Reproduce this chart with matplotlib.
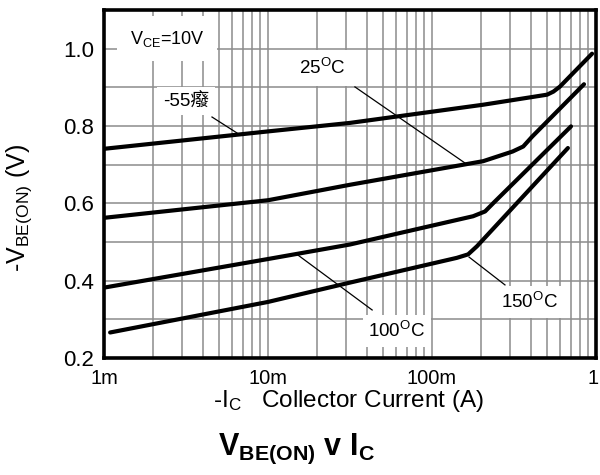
import matplotlib
matplotlib.use("Agg")
import matplotlib.pyplot as plt
from matplotlib.ticker import FixedLocator, NullFormatter, LogLocator
from matplotlib.transforms import ScaledTranslation

plt.rcParams['font.family'] = ['Liberation Sans', 'Noto Sans CJK SC', 'DejaVu Sans']
plt.rcParams['mathtext.fontset'] = 'custom'
plt.rcParams['mathtext.rm'] = 'Liberation Sans'
plt.rcParams['mathtext.it'] = 'Liberation Sans:italic'
plt.rcParams['mathtext.bf'] = 'Liberation Sans:bold'

# ---- data ----
ic_m55 = [1e-3, 0.01, 0.0316, 0.205, 0.503, 0.55, 0.603, 0.946]
vbe_m55 = [0.741, 0.786, 0.808, 0.855, 0.881, 0.889, 0.902, 0.987]

ic_25 = [1e-3, 0.01, 0.0316, 0.205, 0.31, 0.36, 0.407, 0.845]
vbe_25 = [0.5625, 0.608, 0.648, 0.709, 0.734, 0.747, 0.772, 0.908]

ic_100 = [1e-3, 0.01, 0.0316, 0.097, 0.178, 0.2106, 0.237, 0.704]
vbe_100 = [0.382, 0.456, 0.4935, 0.541, 0.5666, 0.579, 0.601, 0.799]

ic_150 = [1.09e-3, 0.01, 0.0316, 0.1417, 0.166, 0.188, 0.674]
vbe_150 = [0.266, 0.345, 0.395, 0.459, 0.468, 0.489, 0.743]

x_ticks = [1e-3, 1e-2, 1e-1, 1]
x_tick_labels = ['1m', '10m', '100m', '1']
y_ticks = [0.2, 0.4, 0.6, 0.8, 1.0]
y_tick_labels = ['0.2', '0.4', '0.6', '0.8', '1.0']
y_grid = [0.3, 0.5, 0.7, 0.9, 1.1]

fig = plt.figure(figsize=(6, 4.75), dpi=100)
ax = fig.add_axes([104/600, 1-358/475, 492/600, 348/475])

ax.set_xscale('log')
ax.set_xlim(1e-3, 1)
ax.set_ylim(0.2, 1.1)

ax.xaxis.set_major_locator(FixedLocator(x_ticks))
ax.set_xticklabels(x_tick_labels)
ax.xaxis.set_minor_locator(LogLocator(base=10, subs=range(2, 10)))
ax.xaxis.set_minor_formatter(NullFormatter())
ax.yaxis.set_major_locator(FixedLocator(y_ticks))
ax.set_yticklabels(y_tick_labels)
ax.yaxis.set_minor_locator(FixedLocator(y_grid))

ax.grid(True, which='both', color='#8c8c8c', linewidth=1.1, zorder=0)
ax.set_axisbelow(True)
ax.tick_params(which='both', length=0)
ax.tick_params(axis='y', pad=7, labelsize=16)
ax.tick_params(axis='x', pad=8, labelsize=14.5)
for s in ax.spines.values():
    s.set_linewidth(2.6)
    s.set_color('black')

# keep the last x tick label ("1") inside the picture, as in the reference
last = ax.get_xticklabels()[-1]
last.set_horizontalalignment('right')
last.set_transform(last.get_transform() + ScaledTranslation(3/100, 0, fig.dpi_scale_trans))

for ic, v in [(ic_m55, vbe_m55), (ic_25, vbe_25), (ic_100, vbe_100), (ic_150, vbe_150)]:
    ax.plot(ic, v, color='black', linewidth=3.0, solid_capstyle='round',
            solid_joinstyle='round', zorder=3)

box = dict(facecolor='white', edgecolor='none', pad=4)
tr = ax.transAxes

# leader lines
ax.plot([0.2195, 0.2703], [0.6925, 0.6466], transform=tr, color='black', lw=0.9, zorder=2)
ax.plot([0.510, 0.734], [0.779, 0.560], transform=tr, color='black', lw=0.9, zorder=2)
ax.plot([0.394, 0.545], [0.296, 0.138], transform=tr, color='black', lw=0.9, zorder=2)
ax.plot([0.742, 0.815], [0.290, 0.210], transform=tr, color='black', lw=0.9, zorder=2)

ax.text(0.128, 0.917, r'V$_{\mathrm{CE}}$=10V', transform=tr, fontsize=13,
        ha='center', va='center', bbox=dict(facecolor='white', edgecolor='none', pad=9), zorder=4)
ax.text(0.167, 0.739, '-55癈', transform=tr, fontsize=13.5, ha='center', va='center',
        bbox=box, zorder=4)
ax.text(0.443, 0.833, r'25$^{\mathrm{O}}$C', transform=tr, fontsize=13.5,
        ha='center', va='center', bbox=dict(facecolor='white', edgecolor='none', pad=6), zorder=4)
ax.text(0.5955, 0.0776, r'100$^{\mathrm{O}}$C', transform=tr, fontsize=13.5,
        ha='center', va='center', bbox=box, zorder=4)
ax.text(0.864, 0.161, r'150$^{\mathrm{O}}$C', transform=tr, fontsize=13.5,
        ha='center', va='center', bbox=box, zorder=4)

fig.text(348/600, 1-407/475, r'-I$_{\mathrm{C}}$   Collector Current (A)', fontsize=17.5,
         ha='center', va='baseline')
fig.text(19/600, 1-208/475, r'-V$_{\mathrm{BE(ON)}}$ (V)', fontsize=18, rotation=90,
         ha='center', va='center')
fig.text(296/600, 1-455/475, r'$\mathbf{V_{BE(ON)}}$ v $\mathbf{I_{C}}$', fontsize=22,
         fontweight='bold', ha='center', va='baseline')

fig.savefig('out.png', dpi=100)
